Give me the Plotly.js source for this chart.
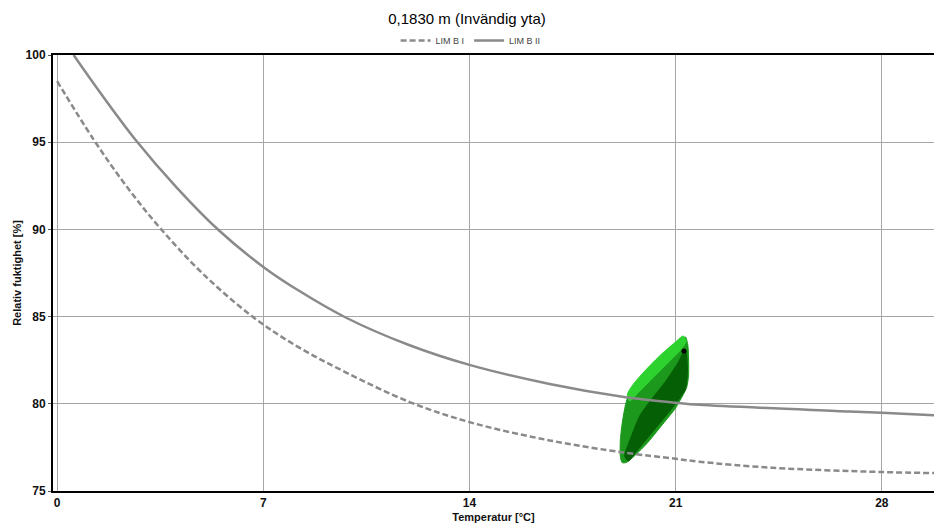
<!DOCTYPE html>
<html>
<head>
<meta charset="utf-8">
<script src="https://cdn.plot.ly/plotly-3.0.1.min.js"></script>
<style>html,body{margin:0;padding:0;background:#fff;}#chart{width:934px;height:526px;}</style>
</head>
<body>
<div id="chart"></div>
<script>
// LIM B I (dashed)
const limB1_T  = [0, 1.24, 2.37, 3.5, 4.97, 6.68, 8.19, 9.83, 11.97, 14, 16.72, 19.3, 21, 21.8, 24.29, 27.94, 29.77];
const limB1_RH = [98.5, 95.15, 92.44, 90.07, 87.42, 84.94, 83.25, 81.78, 80.1, 78.95, 77.9, 77.19, 76.85, 76.68, 76.33, 76.09, 76.03];
// LIM B II (solid)
const limB2_T  = [0.56, 1.46, 2.68, 4.06, 5.47, 7, 8.24, 9.83, 11.9, 14, 16.72, 19.3, 21, 21.8, 26.9, 28, 29.77];
const limB2_RH = [100.0, 97.85, 95.1, 92.4, 89.98, 87.85, 86.45, 84.92, 83.4, 82.23, 81.14, 80.38, 80.06, 79.94, 79.56, 79.48, 79.35];

const cloudOuter_T  = [21.33, 21.41, 21.44, 21.37, 21.01, 20.56, 20.0, 19.54, 19.32, 19.18, 19.12, 19.12, 19.18, 19.3, 19.43, 19.66, 20.11, 20.67, 21.13];
const cloudOuter_RH = [83.83, 83.41, 81.69, 80.93, 79.79, 78.83, 77.68, 76.92, 76.63, 76.63, 77.01, 77.87, 78.83, 79.97, 80.64, 81.22, 81.88, 82.84, 83.7];
const cloudDark_T  = [21.33, 21.40, 21.33, 20.85, 20.29, 19.73, 19.39, 19.27, 19.50, 19.78, 20.18, 20.63, 21.08];
const cloudDark_RH = [83.13, 81.99, 80.83, 79.69, 78.54, 77.40, 76.72, 77.01, 78.16, 79.30, 80.26, 81.22, 82.36];
const cloudBright_T  = [21.25, 21.36, 21.19, 20.74, 20.18, 19.73, 19.44, 19.36, 19.56, 19.95, 20.52, 20.97];
const cloudBright_RH = [83.89, 83.60, 83.13, 82.36, 81.41, 80.64, 80.16, 80.55, 81.12, 81.88, 82.85, 83.51];
const lastPoint_T = [21.28];
const lastPoint_RH = [83.03];

const xTicks = [0, 7, 14, 21, 28];
const yTicks = [75, 80, 85, 90, 95, 100];

function poly(x, y, color) {
  return {x: x.concat([x[0]]), y: y.concat([y[0]]), mode: 'lines', fill: 'toself',
    fillcolor: color, line: {color: color, width: 1, shape: 'spline', smoothing: 0.6},
    showlegend: false, hoverinfo: 'skip'};
}

const traces = [
  poly(cloudOuter_T, cloudOuter_RH, '#1c981c'),
  poly(cloudBright_T, cloudBright_RH, '#2ed22e'),
  poly(cloudDark_T, cloudDark_RH, '#055f05'),
  {x: lastPoint_T, y: lastPoint_RH, mode: 'markers', marker: {color: '#000000', size: 5}, showlegend: false, hoverinfo: 'skip'},
  {x: limB1_T, y: limB1_RH, name: 'LIM B I', mode: 'lines', line: {color: '#8a8a8a', width: 2.5, dash: '6px,3px', shape: 'spline'}},
  {x: limB2_T, y: limB2_RH, name: 'LIM B II', mode: 'lines', line: {color: '#8a8a8a', width: 2.5, shape: 'spline'}}
];

const layout = {
  width: 934, height: 526,
  margin: {l: 53, r: 0, t: 55, b: 35},
  paper_bgcolor: '#ffffff', plot_bgcolor: '#ffffff',
  title: {text: '0,1830 m (Invändig yta)', x: 0.5, xanchor: 'center', y: 0.965, yref: 'container', yanchor: 'middle',
    font: {family: 'Liberation Sans Narrow, Liberation Sans, Arial', size: 15, color: '#000000'}},
  showlegend: true,
  legend: {orientation: 'h', x: 0.474, xanchor: 'center', y: 1.0, yanchor: 'bottom',
    font: {family: 'Liberation Sans Narrow, Liberation Sans, Arial', size: 9, color: '#444444'},
    itemwidth: 30, tracegroupgap: 0, bgcolor: 'rgba(0,0,0,0)'},
  xaxis: {
    range: [-0.14, 29.77], tickvals: xTicks, ticktext: xTicks.map(String),
    showgrid: true, gridcolor: '#a6a6a6', gridwidth: 1, zeroline: false,
    showline: true, linecolor: '#000000', linewidth: 2, mirror: true,
    ticks: '', tickfont: {family: 'Liberation Sans, Arial', size: 12, color: '#111111', weight: 'bold'},
    title: {text: '<b>Temperatur [°C]</b>', standoff: 4, font: {family: 'Liberation Sans, Arial', size: 11, color: '#111111'}}
  },
  yaxis: {
    range: [75, 100], tickvals: yTicks, ticktext: yTicks.map(String),
    showgrid: true, gridcolor: '#a6a6a6', gridwidth: 1, zeroline: false,
    showline: true, linecolor: '#000000', linewidth: 2, mirror: false,
    ticks: 'outside', ticklen: 3, tickcolor: '#555555',
    tickfont: {family: 'Liberation Sans, Arial', size: 12, color: '#111111', weight: 'bold'},
    title: {text: '<b>Relativ fuktighet [%]</b>', standoff: 2, font: {family: 'Liberation Sans, Arial', size: 11, color: '#111111'}}
  }
};

Plotly.newPlot('chart', traces, layout, {displayModeBar: false, staticPlot: true});
</script>
</body>
</html>
